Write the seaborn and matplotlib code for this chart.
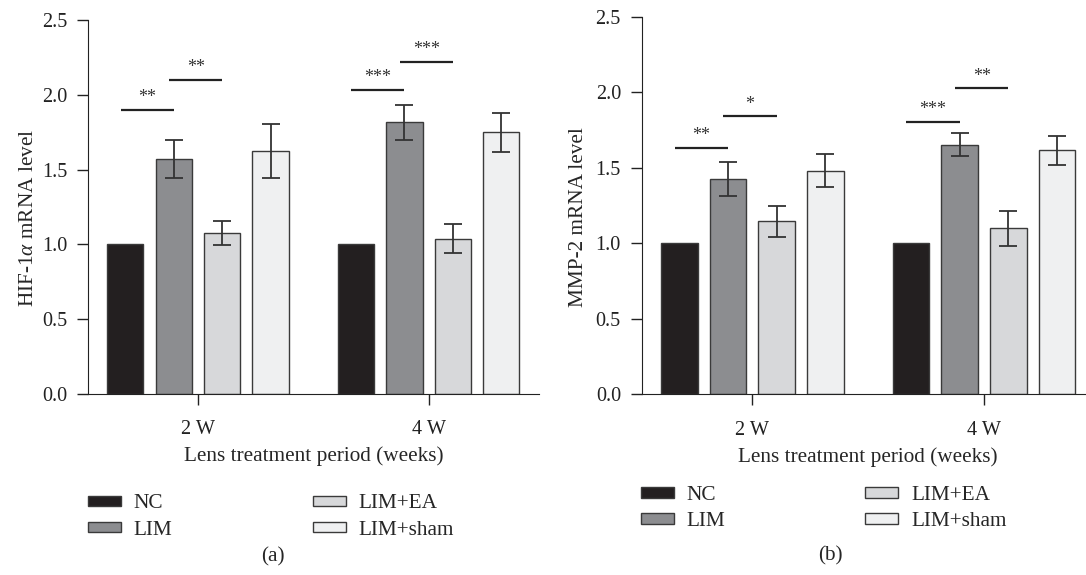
import pandas as pd
import matplotlib.pyplot as plt
import seaborn as sns

# Data
periods = ['2 W', '4 W']
groups = ['NC', 'LIM', 'LIM+EA', 'LIM+sham']
colors = ['#231f20', '#8c8d90', '#d7d8da', '#eff0f1']

hif_mean = {'NC': [1.0, 1.0], 'LIM': [1.571, 1.816], 'LIM+EA': [1.078, 1.038], 'LIM+sham': [1.622, 1.749]}
hif_err = {'NC': [0, 0], 'LIM': [0.13, 0.115], 'LIM+EA': [0.08, 0.097], 'LIM+sham': [0.18, 0.128]}

mmp_mean = {'NC': [1.0, 1.0], 'LIM': [1.423, 1.652], 'LIM+EA': [1.145, 1.099], 'LIM+sham': [1.480, 1.615]}
mmp_err = {'NC': [0, 0], 'LIM': [0.112, 0.077], 'LIM+EA': [0.104, 0.117], 'LIM+sham': [0.108, 0.095]}

# significance bars: (period index, group a, group b, height, label)
hif_sig = [(0, 0, 1, 1.90, '**'), (0, 1, 2, 2.10, '**'), (1, 0, 1, 2.035, '***'), (1, 1, 2, 2.22, '***')]
mmp_sig = [(0, 0, 1, 1.63, '**'), (0, 1, 2, 1.84, '*'), (1, 0, 1, 1.805, '***'), (1, 1, 2, 2.025, '**')]

sns.set_style('ticks')
plt.rcParams['font.family'] = ['Liberation Serif', 'DejaVu Serif']
plt.rcParams['mathtext.fontset'] = 'custom'
plt.rcParams['mathtext.rm'] = 'Liberation Serif'
plt.rcParams['mathtext.it'] = 'Liberation Serif:italic'
plt.rcParams['axes.edgecolor'] = '#222222'
plt.rcParams['xtick.color'] = '#222222'
plt.rcParams['ytick.color'] = '#222222'


def make_df(means):
    rows = []
    for g in groups:
        for i, p in enumerate(periods):
            rows.append({'period': p, 'group': g, 'value': means[g][i]})
    return pd.DataFrame(rows)


def draw_panel(ax, means, errs, sigs, ylabel, ylabel_x, legend_anchor):
    df = make_df(means)
    sns.barplot(data=df, x='period', y='value', hue='group', order=periods, hue_order=groups,
                palette=colors, width=0.84, gap=0.25, errorbar=None,
                edgecolor='#3a3a3a', linewidth=1.0, saturation=1, ax=ax)

    # bar centres per group (one container per hue level)
    bar_conts = list(ax.containers)
    centers = {}
    for gi, cont in enumerate(bar_conts):
        for pi, bar in enumerate(cont):
            centers[(gi, pi)] = bar.get_x() + bar.get_width() / 2
            g = groups[gi]
            if errs[g][pi] > 0:
                ax.errorbar(centers[(gi, pi)], means[g][pi], yerr=errs[g][pi], fmt='none',
                            ecolor='#333333', elinewidth=1.3, capsize=6.7, capthick=1.3)

    for pi, a, b, y, lab in sigs:
        x1 = centers[(a, pi)] - 0.02
        x2 = centers[(b, pi)]
        ax.plot([x1, x2], [y, y], color='#222222', lw=1.6, solid_capstyle='butt')
        ax.text((x1 + x2) / 2, y + 0.025, lab, ha='center', va='bottom', fontsize=13, color='#333333')

    ax.set_ylim(0, 2.5)
    ax.set_xlim(-0.477, 1.477)
    ax.set_yticks([0, 0.5, 1.0, 1.5, 2.0, 2.5])
    ax.set_yticklabels(['0.0', '0.5', '1.0', '1.5', '2.0', '2.5'])
    ax.tick_params(axis='both', labelsize=14.6, length=8, width=1.0)
    ax.tick_params(axis='y', pad=7)
    ax.tick_params(axis='x', pad=11)
    ax.set_xlabel('Lens treatment period (weeks)', fontsize=15.3, labelpad=5)
    ax.set_ylabel(ylabel, fontsize=15.3)
    ax.yaxis.set_label_coords(ylabel_x, 0.47)
    sns.despine(ax=ax)

    sns.move_legend(ax, loc='upper left', bbox_to_anchor=legend_anchor, bbox_transform=ax.figure.transFigure,
                    ncol=2, title=None, frameon=False, fontsize=15.3, borderpad=0, borderaxespad=0,
                    handlelength=1.55, handleheight=0.4, handletextpad=0.6, columnspacing=6.6,
                    labelspacing=0.34)


fig = plt.figure(figsize=(10.86, 5.75), dpi=100)
ax1 = fig.add_axes([0.081, 0.315, 0.415, 0.650])
ax2 = fig.add_axes([0.5909, 0.314, 0.417, 0.657])

draw_panel(ax1, hif_mean, hif_err, hif_sig, 'HIF-1$\\alpha$ mRNA level', -0.111, (0.081, 0.140))
draw_panel(ax2, mmp_mean, mmp_err, mmp_sig, 'MMP-2 mRNA level', -0.119, (0.590, 0.155))

fig.text(273 / 1086, 1 - 557 / 575, '(a)', ha='center', va='center', fontsize=15.3)
fig.text(830 / 1086, 1 - 556 / 575, '(b)', ha='center', va='center', fontsize=15.3)

fig.savefig('out.png', dpi=100)
